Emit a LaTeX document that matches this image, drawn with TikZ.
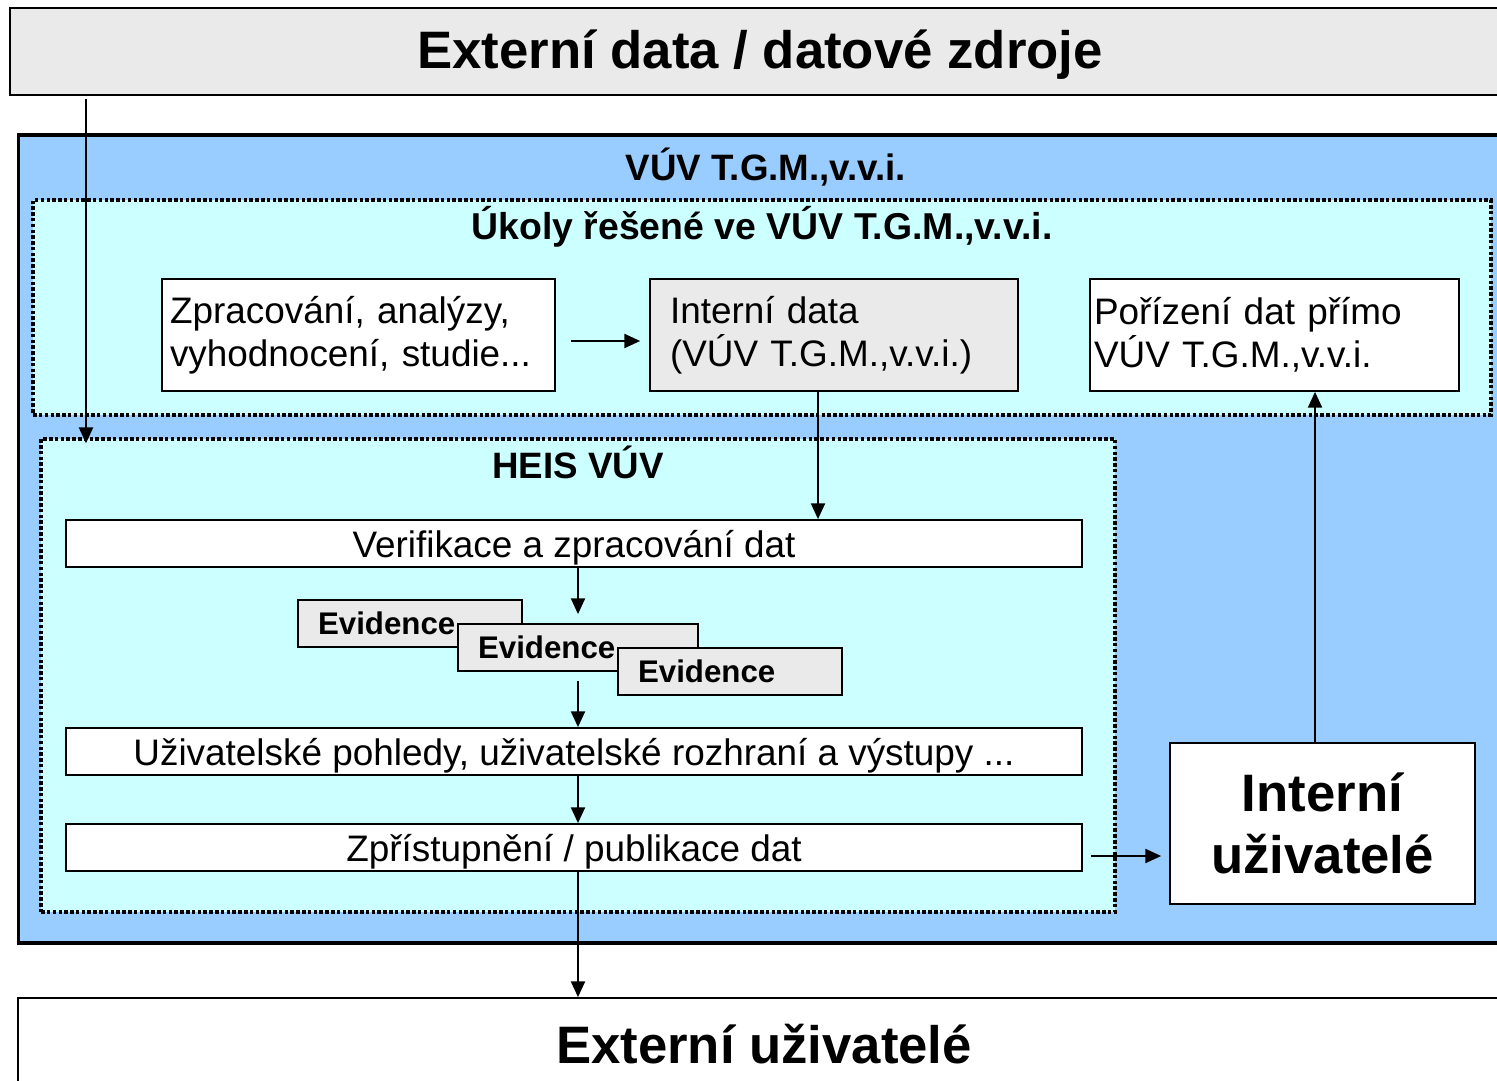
\documentclass[tikz,border=0pt]{standalone}
\usepackage{fontspec}
\setmainfont{Liberation Sans}
\usetikzlibrary{positioning,arrows.meta}
\definecolor{boxgray}{HTML}{EAEAEA}
\definecolor{vuvblue}{HTML}{99CCFF}
\definecolor{taskcyan}{HTML}{CCFFFF}

\begin{document}
\begin{tikzpicture}[
    x=0.02cm, y=-0.02cm,
    frame/.style={rectangle, draw, line width=1pt, inner sep=0pt},
    outer/.style={frame, align=center, font=\fontsize{30}{35}\selectfont\bfseries},
    zone/.style={rectangle, draw, line width=2pt, dash pattern=on 2pt off 1.3pt, fill=taskcyan, inner sep=0pt},
    zonetitle/.style={inner sep=0pt, anchor=base, font=\fontsize{20.9}{24}\selectfont\bfseries},
    task/.style={frame, minimum height=2.24cm, align=left, font=\fontsize{21}{24.4}\selectfont},
    stage/.style={frame, fill=white, minimum width=20.32cm, minimum height=0.94cm, text height=20pt, text depth=4.5pt, font=\fontsize{21}{24}\selectfont},
    evid/.style={frame, fill=boxgray, minimum height=0.94cm, inner xsep=0.4cm, align=left, font=\fontsize{17.8}{20}\selectfont\bfseries},
    arrow/.style={-{Triangle[length=9pt, width=8pt]}, line width=1.1pt}
]
\useasboundingbox (0,0) rectangle (1497,1081);

% Outer boxes
\node[outer, fill=boxgray, minimum width=30cm, minimum height=1.74cm, text height=26pt, text depth=6.3pt] (extdata) at (760,51.5) {Externí data / datové zdroje};
\node[frame, line width=1.8pt, fill=vuvblue, minimum width=29.84cm, minimum height=16.16cm] (vuv) at (764,539) {};
\node[zonetitle] (vuvtitle) at (766,181) {VÚV T.G.M.,v.v.i.};
\node[outer, fill=white, minimum width=29.84cm, minimum height=1.84cm] (extuz) at (764,1044) {Externí uživatelé};

% Tasks
\node[zone, minimum width=29.16cm, minimum height=4.3cm] (ukoly) at (762,307.5) {};
\node[zonetitle, font=\fontsize{21.3}{24}\selectfont\bfseries] (ukolytitle) at (762,239) {Úkoly řešené ve VÚV T.G.M.,v.v.i.};
\node[task, fill=white, inner xsep=0.16cm, text width=7.54cm] (zprac) at (358.5,335) {Zpracování, analýzy,\\vyhodnocení, studie...};
\node[task, fill=boxgray, inner xsep=0.4cm, text width=6.56cm] (intdata) at (834,335) {Interní data\\(VÚV T.G.M.,v.v.i.)};
\node[task, fill=white, inner xsep=0.08cm, text width=7.22cm] (porizeni) at (1274.5,335) {Pořízení dat přímo\\VÚV T.G.M.,v.v.i.};

% HEIS
\node[zone, minimum width=21.48cm, minimum height=9.46cm] (heis) at (578,675.5) {};
\node[zonetitle] (heistitle) at (578,478) {HEIS VÚV};
\node[stage] (verif) at (574,543.5) {Verifikace a zpracování dat};
\node[evid, text width=3.68cm] (ev1) at (410,623.5) {Evidence};
\node[evid, text width=4cm] (ev2) at (578,647.5) {Evidence};
\node[evid, text width=3.68cm] (ev3) at (730,671.5) {Evidence};
\node[stage] (uzpohl) at (574,751.5) {Uživatelské pohledy, uživatelské rozhraní a výstupy ...};
\node[stage] (zpris) at (574,847.5) {Zpřístupnění / publikace dat};

\node[outer, fill=white, minimum width=6.1cm, minimum height=3.22cm] (intuz) at (1322.5,823.5) {Interní\\uživatelé};

% Flows
\coordinate (xin) at (86,0);
\draw[arrow] ([yshift=-0.06cm]extdata.south -| xin) -- ([yshift=-0.12cm]heis.north -| xin);
\draw[arrow, shorten <=0.3cm, shorten >=0.18cm] ([yshift=-0.12cm]zprac.east) -- ([yshift=-0.12cm]intdata.west);
\draw[arrow] ([xshift=-0.32cm]intdata.south) -- ([xshift=-0.32cm]intdata.south |- verif.north);
\draw[arrow, shorten >=0.18cm] (verif.south -| ev2) -- (ev2.north);
\draw[arrow, shorten <=0.18cm] (ev2.south) -- (ev2.south |- uzpohl.north);
\draw[arrow] (uzpohl.south -| ev2) -- (zpris.north -| ev2);
\draw[arrow] (zpris.south -| ev2) -- (extuz.north -| ev2);
\draw[arrow, shorten <=0.16cm, shorten >=0.16cm] ([yshift=-0.17cm]zpris.east) -- ([yshift=-0.17cm]zpris.east -| intuz.west);
\draw[arrow] ([xshift=-0.15cm]intuz.north) -- ([xshift=-0.15cm]intuz.north |- porizeni.south);

\end{tikzpicture}
\end{document}
